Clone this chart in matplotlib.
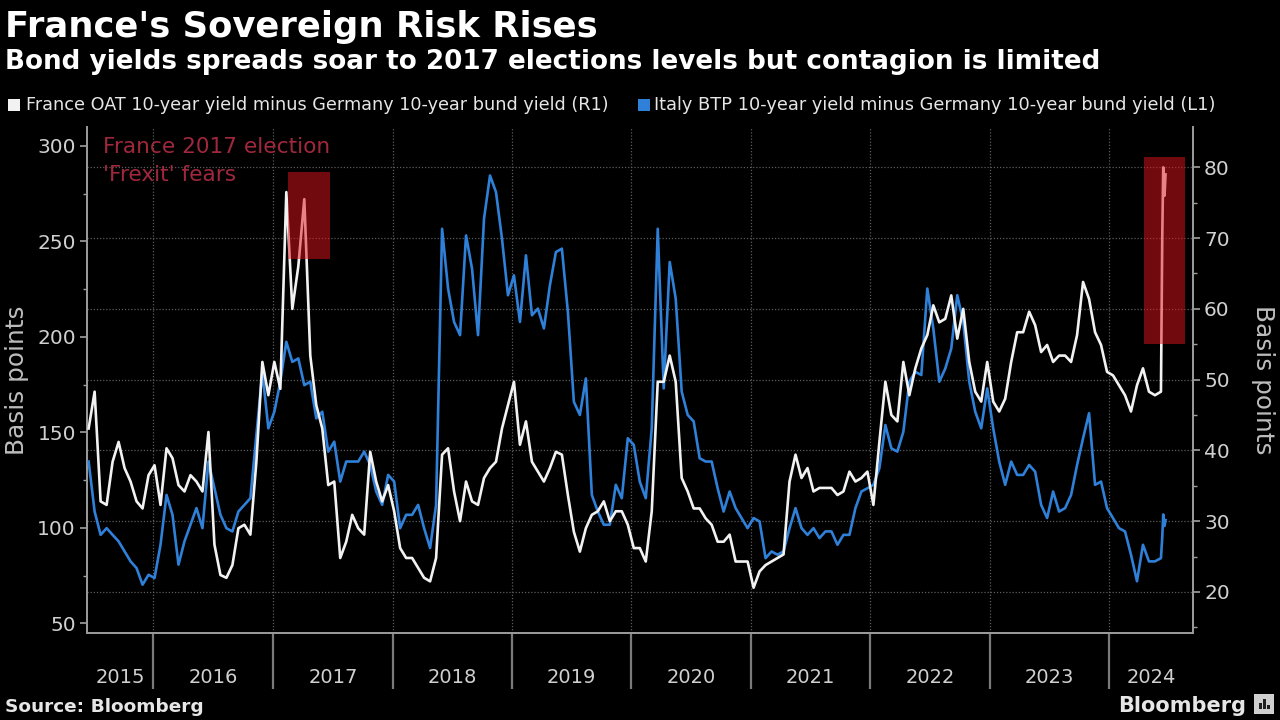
import numpy as np
import pandas as pd
import matplotlib
matplotlib.use("Agg")
import matplotlib.pyplot as plt
from matplotlib.patches import Rectangle

# ---------------- data ----------------
# France OAT - Bund spread (bp, right axis), sampled roughly every 18 days
france_main = [
    43.1, 48.3, 32.8, 32.3, 38.4, 41.2, 37.5, 35.6, 32.8, 31.8, 36.5, 37.9, 32.3, 40.3, 38.9, 35.1,
    34.2, 36.5, 35.6, 34.2, 42.6, 26.7, 22.4, 22.0, 23.8, 29.0, 29.5, 28.1, 38.4, 52.5, 47.8, 52.5,
    48.7, 76.5, 60.0, 66.0, 75.5, 53.4, 46.4, 43.1, 35.1, 35.6, 24.8, 27.1, 30.9, 29.0, 28.1, 39.8,
    35.6, 32.8, 35.1, 31.4, 26.2, 24.8, 24.8, 23.4, 22.0, 21.5, 24.8, 39.4, 40.3, 34.2, 30.0,
    35.6, 32.8, 32.3, 36.1, 37.5, 38.4, 43.1, 46.4, 49.7, 40.8, 44.1, 38.4, 37.0, 35.6, 37.5, 39.8,
    39.4, 33.7, 28.5, 25.7, 29.0, 30.9, 31.4, 32.8, 30.0, 31.4, 31.4, 29.5, 26.2, 26.2,
    24.3, 31.4, 49.7, 49.7, 53.4, 49.7, 36.1, 34.2, 31.8, 31.8, 30.4, 29.5, 27.1, 27.1, 28.1, 24.3,
    24.3, 24.3, 20.6, 22.9, 23.8, 24.3, 24.8, 25.3, 35.6, 39.4, 36.1, 37.5, 34.2, 34.7, 34.7,
    34.7, 33.7, 34.2, 37.0, 35.6, 36.1, 37.0, 32.3, 41.2, 49.7, 45.0, 44.1, 52.5, 47.8, 51.6, 54.4,
    56.3, 60.5, 58.1, 58.6, 61.9, 55.8, 60.0, 52.5, 48.3, 46.9, 52.5, 46.9, 45.5, 47.3, 52.5,
    56.7, 56.7, 59.6, 57.7, 53.9, 54.9, 52.5, 53.4, 53.4, 52.5, 56.3, 63.8, 61.4, 56.7, 54.9, 51.1,
    50.6, 49.2, 47.8, 45.5, 49.2, 51.6, 48.3, 47.8, 48.3,
]
# Italy BTP - Bund spread (bp, left axis), same sampling
italy_main = [
    134.7, 108.5, 96.3, 99.8, 96.3, 92.9, 87.6, 82.4, 78.9, 70.2, 75.4, 73.7, 91.1, 117.2, 106.8, 80.7,
    92.9, 101.6, 110.3, 99.8, 134.7, 120.7, 106.8, 99.8, 98.1, 108.5, 112.0, 115.5, 148.6, 181.7, 152.1, 160.8,
    176.5, 197.4, 186.9, 188.7, 174.7, 176.5, 157.3, 160.8, 139.9, 145.1, 124.2, 134.7, 134.7, 134.7, 139.9, 132.9,
    119.0, 112.0, 127.7, 124.2, 99.8, 106.8, 106.8, 112.0, 99.8, 89.4, 112.0, 256.6, 225.3, 207.8, 200.9,
    253.1, 235.7, 200.9, 261.8, 284.5, 275.8, 251.4, 221.8, 232.2, 207.8, 242.7, 211.3, 214.8, 204.4, 227.0, 244.4,
    246.2, 213.1, 166.0, 159.1, 178.2, 117.2, 108.5, 101.6, 101.6, 122.5, 115.5, 146.9, 143.4, 124.2,
    115.5, 152.1, 256.6, 173.0, 239.2, 220.0, 171.3, 159.1, 155.7, 136.4, 134.7, 134.7, 120.7, 108.5, 119.0, 110.3,
    105.1, 99.8, 105.1, 103.3, 84.1, 87.6, 85.9, 87.6, 99.8, 110.3, 99.8, 96.3, 99.8, 94.6, 98.1,
    98.1, 91.1, 96.3, 96.3, 110.3, 119.0, 120.7, 122.5, 131.2, 153.8, 141.6, 139.9, 150.3, 176.5, 181.7, 180.0,
    225.3, 204.4, 176.5, 183.4, 193.9, 221.8, 207.8, 176.5, 160.8, 152.1, 173.0, 152.1, 134.7, 122.5, 134.7,
    127.7, 127.7, 132.9, 129.4, 112.0, 105.1, 119.0, 108.5, 110.3, 117.2, 132.9, 146.9, 160.0, 122.5, 124.2, 110.3,
    105.1, 99.8, 98.1, 85.9, 72.0, 91.1, 82.4, 82.4, 84.1,
]
tail_dates = ["2024-06-11", "2024-06-14", "2024-06-18", "2024-06-21"]
france_tail = [70.0, 80.0, 76.0, 79.0]
italy_tail = [95.0, 107.0, 101.0, 104.0]

years = ["2015", "2016", "2017", "2018", "2019", "2020", "2021", "2022", "2023", "2024"]
left_ticks = [50, 100, 150, 200, 250, 300]
right_ticks = [20, 30, 40, 50, 60, 70, 80]

main_dates = pd.date_range("2015-06-17", "2024-06-07", periods=len(france_main))
dates = main_dates.append(pd.DatetimeIndex(pd.to_datetime(tail_dates)))
france = np.array(france_main + france_tail)
italy = np.array(italy_main + italy_tail)

# ---------------- figure ----------------
W, H = 1280, 720
fig = plt.figure(figsize=(12.8, 7.2), dpi=100, facecolor="black")
ax = fig.add_axes([87 / W, 1 - 633 / H, (1193 - 87) / W, (633 - 127) / H])
ax.set_facecolor("black")
ax2 = ax.twinx()

xmin, xmax = pd.Timestamp("2015-06-12"), pd.Timestamp("2024-09-13")
ax.set_xlim(xmin, xmax)
ax.set_ylim(44.9, 309.9)
ax2.set_ylim(14.2, 85.7)

# lines (both drawn in ax2 so grid stays below them)
ax2.plot(dates, italy, color="#2f80d8", lw=1.9, transform=ax.transData, zorder=3)
ax2.plot(dates, france, color="#f2f2f2", lw=1.9, zorder=4)

# highlight boxes
box_color = "#e0141e"
ax2.add_patch(Rectangle((pd.Timestamp("2017-02-14"), 67.1),
                        pd.Timestamp("2017-06-24") - pd.Timestamp("2017-02-14"), 79.3 - 67.1,
                        facecolor=box_color, alpha=0.5, edgecolor="none", zorder=5))
ax2.add_patch(Rectangle((pd.Timestamp("2024-04-15"), 55.0),
                        pd.Timestamp("2024-08-19") - pd.Timestamp("2024-04-15"), 81.4 - 55.0,
                        facecolor=box_color, alpha=0.5, edgecolor="none", zorder=5))

# grid
grid_kw = dict(color="#5c5c5c", linestyle=(0, (1, 1.5)), linewidth=0.9)
ax2.set_axisbelow(True)
ax2.yaxis.grid(True, which="major", **grid_kw)
ax.xaxis.grid(True, which="major", **grid_kw)

# y ticks
ax.set_yticks(left_ticks)
ax.set_yticks([75, 125, 175, 225, 275], minor=True)
ax2.set_yticks(right_ticks)
ax2.set_yticks([15, 25, 35, 45, 55, 65, 75], minor=True)
for a in (ax, ax2):
    a.tick_params(axis="y", which="major", length=5, width=1.2, color="#a0a0a0",
                  labelcolor="#d0d0d0", labelsize=14.5, pad=3)
    a.tick_params(axis="y", which="minor", length=3, width=1.0, color="#a0a0a0")

# x ticks: long separators at year starts, labels centered in each year
year_starts = [pd.Timestamp(f"{y}-01-01") for y in years[1:]]
bounds = [xmin] + year_starts + [xmax]
centers = [bounds[i] + (bounds[i + 1] - bounds[i]) / 2 for i in range(len(years))]
ax.set_xticks(year_starts)
ax.set_xticklabels([""] * len(year_starts))
ax.set_xticks(centers, minor=True)
ax.set_xticklabels(years, minor=True)
ax.tick_params(axis="x", which="major", length=40, width=1.6, color="#7a7a7a", direction="out")
ax.tick_params(axis="x", which="minor", length=0, pad=25, labelsize=14, labelcolor="#d0d0d0")

for a in (ax, ax2):
    a.spines["top"].set_visible(False)
    for s in ("left", "right", "bottom"):
        a.spines[s].set_color("#9a9a9a")
        a.spines[s].set_linewidth(1.3)

# axis titles
fig.text(17 / W, 1 - 380 / H, "Basis points", rotation=90, ha="center", va="center",
         color="#bdbdbd", fontsize=17.8)
fig.text(1263 / W, 1 - 380 / H, "Basis points", rotation=270, ha="center", va="center",
         color="#bdbdbd", fontsize=17.8)

# titles
fig.text(5 / W, 1 - 37 / H, "France's Sovereign Risk Rises", color="white",
         fontsize=25.5, fontweight="bold", va="baseline", ha="left")
fig.text(5 / W, 1 - 69 / H, "Bond yields spreads soar to 2017 elections levels but contagion is limited",
         color="white", fontsize=18.9, fontweight="bold", va="baseline", ha="left")

# legend
fig.patches.append(Rectangle((8 / W, 1 - 111 / H), 12 / W, 12 / H, transform=fig.transFigure,
                             facecolor="#f2f2f2", edgecolor="none"))
fig.text(26 / W, 1 - 110 / H, "France OAT 10-year yield minus Germany 10-year bund yield (R1)",
         color="#e6e6e6", fontsize=12.7, va="baseline", ha="left")
fig.patches.append(Rectangle((638 / W, 1 - 111 / H), 12 / W, 12 / H, transform=fig.transFigure,
                             facecolor="#2f80d8", edgecolor="none"))
fig.text(654 / W, 1 - 110 / H, "Italy BTP 10-year yield minus Germany 10-year bund yield (L1)",
         color="#e6e6e6", fontsize=12.8, va="baseline", ha="left")

# annotation
fig.text(103 / W, 1 - 153 / H, "France 2017 election", color="#a0283c", fontsize=15.6,
         va="baseline", ha="left")
fig.text(103 / W, 1 - 181 / H, "'Frexit' fears", color="#a0283c", fontsize=15.6,
         va="baseline", ha="left")

# footer
fig.text(5 / W, 1 - 712 / H, "Source: Bloomberg", color="#e6e6e6", fontsize=13.3,
         fontweight="bold", va="baseline", ha="left")
fig.text(1246 / W, 1 - 712 / H, "Bloomberg", color="#e6e6e6", fontsize=15,
         fontweight="bold", va="baseline", ha="right")
fig.patches.append(Rectangle((1254 / W, 1 - 714 / H), 20 / W, 20 / H, transform=fig.transFigure,
                             facecolor="#cfcfcf", edgecolor="none"))
for bx, bh in [(1259, 6), (1263, 10), (1267, 4)]:
    fig.patches.append(Rectangle((bx / W, 1 - 709 / H), 2.5 / W, bh / H, transform=fig.transFigure,
                                 facecolor="#202020", edgecolor="none"))

fig.savefig("out.png", dpi=100, facecolor="black")
